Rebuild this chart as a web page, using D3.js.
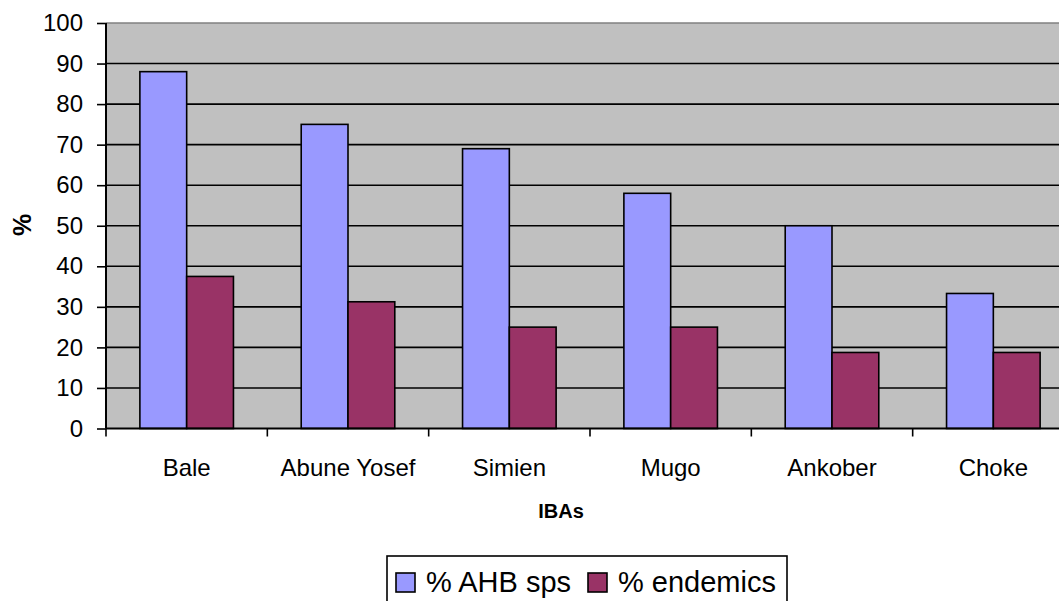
<!DOCTYPE html>
<html><head><meta charset="utf-8">
<script src="https://cdn.jsdelivr.net/npm/d3@7"></script>
<style>body{margin:0;background:#fff}svg{display:block}</style>
</head><body>
<script>
const categories = ["Bale","Abune Yosef","Simien","Mugo","Ankober","Choke"];
const seriesNames = ["% AHB sps","% endemics"];
const ahb = [88, 75, 69, 58, 50, 33.3];
const endemics = [37.5, 31.25, 25, 25, 18.75, 18.75];
const yTicks = [0,10,20,30,40,50,60,70,80,90,100];
const colors = ["#9999FF","#993366"];

const W = 1059, H = 601;
const font = "'Liberation Sans', Arial, sans-serif";
const svg = d3.select("body").append("svg").attr("width", W).attr("height", H);

const pL = 106, pT = 23, pB = 428.5, pR = 1074;
const x = d3.scaleBand().domain(categories).range([pL, pR]).padding(0);
const y = d3.scaleLinear().domain([0,100]).range([pB, pT]);

// plot background
svg.append("rect").attr("x", pL).attr("y", pT).attr("width", pR-pL).attr("height", pB-pT).attr("fill", "#C0C0C0");

// gridlines
svg.append("g").selectAll("line").data(yTicks.filter(d => d>0 && d<100)).join("line")
  .attr("x1", pL).attr("x2", pR).attr("y1", d => y(d)).attr("y2", d => y(d))
  .attr("stroke", "#000").attr("stroke-width", 1.6);
svg.append("line").attr("x1", pL).attr("x2", pR).attr("y1", y(100)).attr("y2", y(100))
  .attr("stroke", "#808080").attr("stroke-width", 1.6);

// bars
const series = [ahb, endemics];
const bw = x.bandwidth();
series.forEach((vals, si) => {
  svg.append("g").selectAll("rect").data(categories).join("rect")
    .attr("x", d => x(d) + bw*0.21 + si*bw*0.29)
    .attr("width", bw*0.29)
    .attr("y", (d,i) => y(vals[i]))
    .attr("height", (d,i) => y(0) - y(vals[i]))
    .attr("fill", colors[si]).attr("stroke", "#000").attr("stroke-width", 1.6);
});

// y axis
const yAxis = d3.axisLeft(y).tickValues(yTicks).tickSize(9).tickPadding(14);
const gy = svg.append("g").attr("transform", `translate(${pL},0)`).call(yAxis);
gy.select(".domain").attr("stroke", "#000").attr("stroke-width", 2).attr("d", `M0,${pT}V${pB}`);
gy.selectAll(".tick line").attr("stroke", "#000").attr("stroke-width", 1.6);
gy.selectAll("text").attr("font-family", font).attr("font-size", 24).attr("fill", "#000");

// x axis
const xb = d3.scaleLinear().domain([0, categories.length]).range([pL, pR]);
const gx = svg.append("g").attr("transform", `translate(0,${pB})`);
gx.append("line").attr("x1", pL).attr("x2", pR).attr("stroke", "#000").attr("stroke-width", 2);
gx.selectAll("line.t").data(d3.range(categories.length+1)).join("line").attr("class","t")
  .attr("x1", d => xb(d)).attr("x2", d => xb(d)).attr("y1", 0).attr("y2", 8)
  .attr("stroke", "#000").attr("stroke-width", 1.6);
gx.selectAll("text").data(categories).join("text")
  .attr("x", d => x(d) + bw/2).attr("y", 47)
  .attr("text-anchor", "middle").attr("font-family", font).attr("font-size", 24).text(d => d);

// axis titles
svg.append("text").attr("x", 561).attr("y", 518).attr("text-anchor", "middle")
  .attr("font-family", font).attr("font-size", 20).attr("font-weight", "bold").text("IBAs");
svg.append("text").attr("transform", "translate(31,225) rotate(-90)").attr("text-anchor", "middle")
  .attr("font-family", font).attr("font-size", 25).attr("font-weight", "bold").text("%");

// legend
const lg = svg.append("g");
lg.append("rect").attr("x", 387).attr("y", 556).attr("width", 400).attr("height", 60)
  .attr("fill", "#fff").attr("stroke", "#000").attr("stroke-width", 1.6);
const legX = [396, 588];
seriesNames.forEach((n, i) => {
  lg.append("rect").attr("x", legX[i]).attr("y", 573).attr("width", 19).attr("height", 19)
    .attr("fill", colors[i]).attr("stroke", "#000").attr("stroke-width", 1.6);
  lg.append("text").attr("x", legX[i] + 30).attr("y", 592).attr("font-family", font)
    .attr("font-size", 29).text(n);
});
</script>
</body></html>
